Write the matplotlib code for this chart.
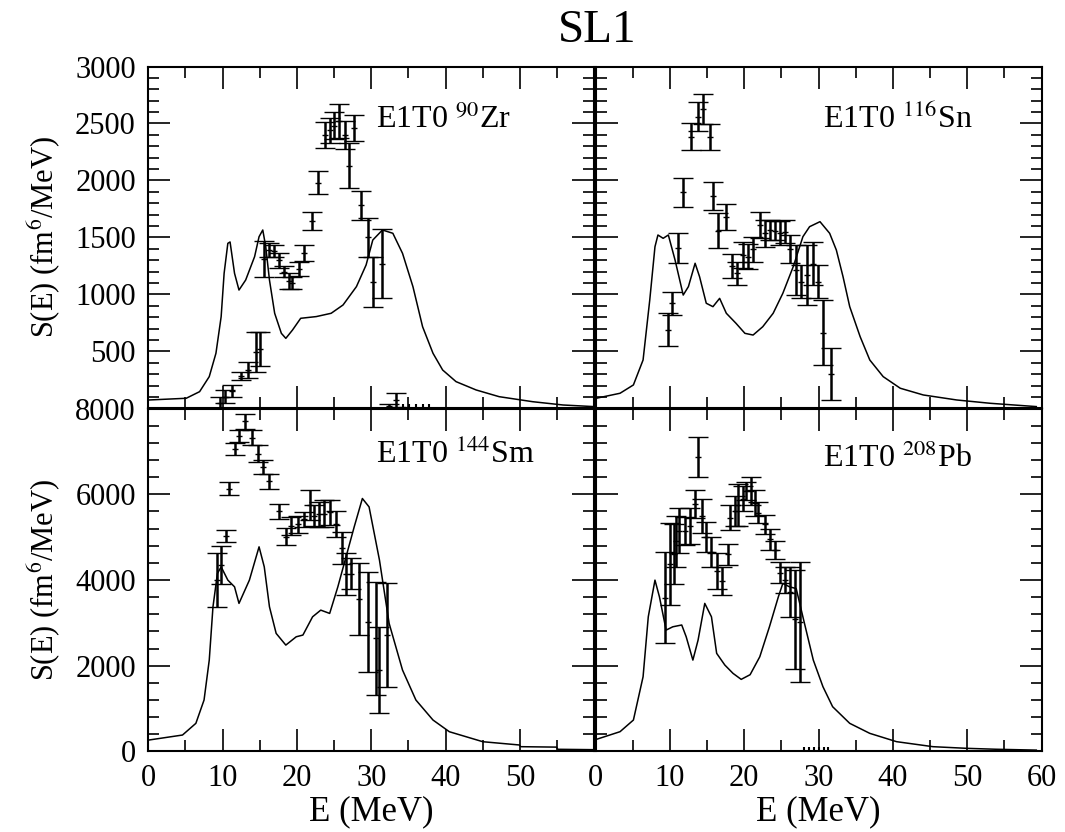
import matplotlib
matplotlib.use("Agg")
import matplotlib.pyplot as plt
from matplotlib.ticker import MultipleLocator

plt.rcParams['font.family'] = ['Liberation Serif', 'DejaVu Serif']
plt.rcParams['mathtext.fontset'] = 'stix'

# ---- 90Zr ----
zr_curve_x = [0.1, 5.1, 6.9, 8.2, 9.1, 9.8, 10.2, 10.7, 11.0, 11.6, 12.2, 13.1, 14.3, 14.9, 15.4, 15.8,
              16.3, 17.0, 17.9, 18.5, 19.4, 20.5, 22.6, 24.6, 26.2, 28.0, 29.3, 30.2, 31.5, 32.9, 34.2,
              35.6, 36.9, 38.3, 39.6, 41.4, 44.1, 47.2, 51.7, 55.8, 59.9]
zr_curve_y = [73, 88, 146, 278, 483, 804, 1185, 1448, 1460, 1185, 1038, 1126, 1331, 1506, 1565, 1418,
              1126, 834, 658, 614, 687, 790, 805, 834, 907, 1068, 1258, 1477, 1565, 1536, 1360,
              1068, 716, 483, 336, 234, 161, 102, 58, 29, 15]
zr_x = [9.7, 10.3, 11.2, 12.5, 13.4, 14.5, 15.0, 15.6, 16.3, 16.9, 17.6, 18.3, 18.9, 19.3, 20.3, 21.0,
        22.0, 22.8, 23.8, 24.4, 25.0, 25.7, 26.4, 27.0, 27.7, 28.6, 29.5, 30.2, 31.4, 32.4, 33.3]
zr_y = [46, 102, 153, 285, 336, 497, 520, 1310, 1390, 1380, 1300, 1200, 1120, 1100, 1220, 1360,
        1645, 1980, 2400, 2440, 2480, 2520, 2400, 2130, 2460, 1780, 1500, 1110, 1270, 20, 75]
zr_err = [55, 58, 51, 37, 73, 176, 150, 155, 60, 55, 65, 50, 70, 50, 60, 70,
          80, 100, 115, 110, 120, 150, 120, 200, 115, 125, 170, 220, 300, 15, 60]
# points sitting on zero above 34 MeV
zr_low_x = [34.2, 35.1, 36.0, 36.9, 37.8]
zr_low_y = [10, 10, 10, 10, 10]
zr_low_err = [30, 30, 30, 30, 30]

# ---- 116Sn ----
sn_curve_x = [0.1, 3.3, 5.1, 6.4, 7.3, 8.0, 8.4, 9.1, 9.8, 10.7, 11.8, 12.5, 13.4, 14.0, 14.9, 15.8,
              16.7, 17.6, 18.9, 20.1, 21.2, 22.5, 23.9, 25.2, 26.6, 27.9, 28.8, 30.2, 31.5, 32.4,
              33.3, 34.2, 35.6, 36.9, 38.7, 41.0, 44.1, 48.6, 53.1, 59.3]
sn_curve_y = [88, 132, 205, 424, 951, 1418, 1521, 1492, 1521, 1302, 994, 1068, 1273, 1155, 922, 892,
              965, 834, 746, 658, 643, 716, 834, 1009, 1243, 1506, 1594, 1638, 1536, 1389,
              1155, 892, 629, 424, 278, 176, 117, 73, 44, 15]
sn_x = [9.7, 10.3, 11.1, 11.8, 12.9, 13.8, 14.4, 15.4, 15.8, 16.5, 17.5, 18.4, 19.0, 19.9, 20.5, 21.2,
        22.1, 22.8, 23.5, 24.1, 24.8, 25.5, 26.1, 27.0, 27.7, 28.4, 29.3, 29.9, 30.6, 31.7]
sn_y = [690, 920, 1405, 1895, 2385, 2560, 2625, 2380, 1865, 1560, 1680, 1250, 1185, 1345, 1330, 1395,
        1610, 1535, 1565, 1560, 1540, 1550, 1400, 1215, 1110, 1170, 1270, 1110, 665, 300]
sn_err = [147, 100, 130, 125, 117, 130, 130, 113, 125, 150, 117, 102, 100, 117, 110, 110,
          117, 117, 90, 85, 105, 100, 124, 220, 146, 263, 190, 146, 285, 227]

# ---- 144Sm ----
sm_curve_x = [0.1, 4.6, 6.4, 7.5, 8.2, 8.7, 9.3, 9.8, 10.7, 11.6, 12.2, 13.6, 14.9, 15.6, 16.3, 17.2,
              18.5, 19.9, 20.8, 22.1, 23.2, 24.4, 25.5, 26.6, 27.7, 28.8, 29.7, 31.1, 32.4, 34.2,
              36.0, 38.3, 40.5, 45.0, 49.9, 50.1, 54.9, 55.1, 60.0]
sm_curve_y = [266, 382, 655, 1199, 2131, 3374, 4153, 4307, 3997, 3841, 3454, 3997, 4774, 4307, 3374, 2754,
              2481, 2675, 2715, 3141, 3297, 3220, 3841, 4540, 5240, 5902, 5706, 4463, 2987, 1898,
              1199, 732, 459, 226, 150, 110, 100, 49, 40]
sm_x = [9.2, 9.8, 10.4, 10.9, 11.6, 12.2, 13.0, 13.9, 14.8, 15.4, 16.3, 17.6, 18.5, 19.2, 20.1, 21.0,
        21.7, 22.3, 23.0, 23.7, 24.4, 25.3, 26.0, 26.6, 27.3, 28.4, 29.5, 30.6, 31.1, 32.1]
sm_y = [4000, 4350, 5030, 6130, 7050, 7360, 7700, 7320, 6950, 6640, 6310, 5610, 5010, 5260, 5300, 5415,
        5750, 5500, 5530, 5550, 5580, 5300, 4755, 4130, 4150, 3550, 3025, 2640, 1900, 2715]
sm_err = [640, 450, 140, 155, 140, 140, 165, 175, 195, 155, 175, 175, 195, 215, 200, 175,
          350, 250, 290, 310, 290, 300, 370, 490, 360, 836, 1166, 1320, 1010, 1205]

# ---- 208Pb ----
pb_curve_x = [0.1, 3.3, 5.1, 6.4, 7.1, 8.0, 8.6, 9.5, 10.4, 11.6, 12.2, 13.1, 13.8, 14.7, 15.6, 16.3,
              17.4, 18.5, 19.6, 20.8, 22.1, 23.4, 24.6, 25.2, 26.1, 27.0, 27.9, 29.3, 30.6, 31.9,
              34.2, 36.9, 40.5, 45.4, 49.9, 53.9, 59.3]
pb_curve_y = [280, 460, 732, 1742, 3141, 3997, 3608, 2831, 2908, 2950, 2675, 2131, 2598, 3454, 3141, 2288,
              2015, 1821, 1681, 1790, 2208, 2908, 3608, 3920, 3841, 3800, 3141, 2131, 1509, 1043,
              655, 421, 227, 110, 72, 50, 30]
pb_x = [9.3, 10.0, 10.5, 10.8, 11.3, 12.0, 12.7, 13.4, 13.8, 14.3, 14.9, 15.6, 16.3, 17.0, 17.8, 18.1,
        18.7, 19.2, 19.9, 20.3, 20.9, 21.4, 21.9, 22.8, 23.5, 24.1, 24.8, 25.5, 26.2, 26.8, 27.5]
pb_y = [3590, 4370, 4600, 4900, 5145, 5140, 5260, 5770, 6870, 5500, 5010, 4660, 4210, 3980, 4600, 5455,
        5600, 5750, 5900, 6080, 6080, 5800, 5570, 5300, 4950, 4700, 4170, 4000, 3720, 3080, 3030]
pb_err = [1070, 950, 700, 600, 525, 330, 410, 330, 470, 400, 350, 350, 410, 330, 250, 290,
          350, 500, 300, 210, 330, 300, 250, 215, 250, 200, 250, 300, 580, 1150, 1400]
pb_low_x = [28.1, 28.7, 29.4, 30.0, 30.7, 31.3]
pb_low_y = [20, 20, 20, 20, 20, 20]
pb_low_err = [80, 80, 80, 80, 80, 80]

labels = ['E1T0 $^{90}$Zr', 'E1T0 $^{116}$Sn', 'E1T0 $^{144}$Sm', 'E1T0 $^{208}$Pb']

fig = plt.figure(figsize=(10.65, 8.32), dpi=100)

W = 446 / 1065
x_left = 148.3 / 1065
x_right = 595.5 / 1065
H_top = 341.8 / 832
H_bot = 342.8 / 832
y_top = 1 - 408.3 / 832
y_bot = 1 - 751.4 / 832

ax_zr = fig.add_axes([x_left, y_top, W, H_top])
ax_sn = fig.add_axes([x_right, y_top, W, H_top])
ax_sm = fig.add_axes([x_left, y_bot, W, H_bot])
ax_pb = fig.add_axes([x_right, y_bot, W, H_bot])

panels = [
    (ax_zr, zr_curve_x, zr_curve_y, zr_x, zr_y, zr_err, labels[0], 0.82),
    (ax_sn, sn_curve_x, sn_curve_y, sn_x, sn_y, sn_err, labels[1], 0.82),
    (ax_sm, sm_curve_x, sm_curve_y, sm_x, sm_y, sm_err, labels[2], 0.84),
    (ax_pb, pb_curve_x, pb_curve_y, pb_x, pb_y, pb_err, labels[3], 0.83),
]

for ax, cx, cy, dx, dy, de, lab, ly in panels:
    ax.plot(cx, cy, color='k', lw=1.1)
    ax.errorbar(dx, dy, yerr=de, fmt='_', ms=4, mew=1.0, color='k', ecolor='k',
                elinewidth=1.8, capsize=7, capthick=3.0)
    ax.text(0.51, ly, lab, transform=ax.transAxes, fontsize=23, ha='left', va='baseline')
    ax.set_xlim(0, 60)
    ax.xaxis.set_major_locator(MultipleLocator(10))
    ax.xaxis.set_minor_locator(MultipleLocator(5))
    ax.tick_params(which='both', direction='in', top=True, right=True, width=1.2, labelsize=22)
    ax.tick_params(which='major', length=16, pad=9)
    ax.tick_params(which='minor', length=8)
    for s in ax.spines.values():
        s.set_linewidth(1.5)

# near-zero points drawn without caps
ax_zr.errorbar(zr_low_x, zr_low_y, yerr=zr_low_err, fmt='none', ecolor='k', elinewidth=1.5, capsize=0)
ax_pb.errorbar(pb_low_x, pb_low_y, yerr=pb_low_err, fmt='none', ecolor='k', elinewidth=1.5, capsize=0)

for ax in (ax_zr, ax_sn):
    ax.set_ylim(0, 3000)
    ax.yaxis.set_major_locator(MultipleLocator(500))
    ax.yaxis.set_minor_locator(MultipleLocator(100))
    ax.tick_params(labelbottom=False)

for ax in (ax_sm, ax_pb):
    ax.set_ylim(0, 8000)
    ax.yaxis.set_major_locator(MultipleLocator(2000))
    ax.yaxis.set_minor_locator(MultipleLocator(400))
    ax.set_xlabel('E (MeV)', fontsize=25, labelpad=2)

for ax in (ax_sn, ax_pb):
    ax.tick_params(labelleft=False)

# shared edges: drop the labels that would collide
ax_zr.set_yticks(range(0, 3001, 500))
ax_zr.set_yticklabels([''] + [str(v) for v in range(500, 3001, 500)])
ax_sm.set_xticks(range(0, 61, 10))
ax_sm.set_xticklabels([str(v) for v in range(0, 51, 10)] + [''])

for ax in (ax_zr, ax_sm):
    ax.set_ylabel('S(E) (fm$^6$/MeV)', fontsize=22, labelpad=9)

fig.text(0.561, 0.963, 'SL1', fontsize=34, ha='center', va='center')

fig.savefig('out.png', dpi=100)
